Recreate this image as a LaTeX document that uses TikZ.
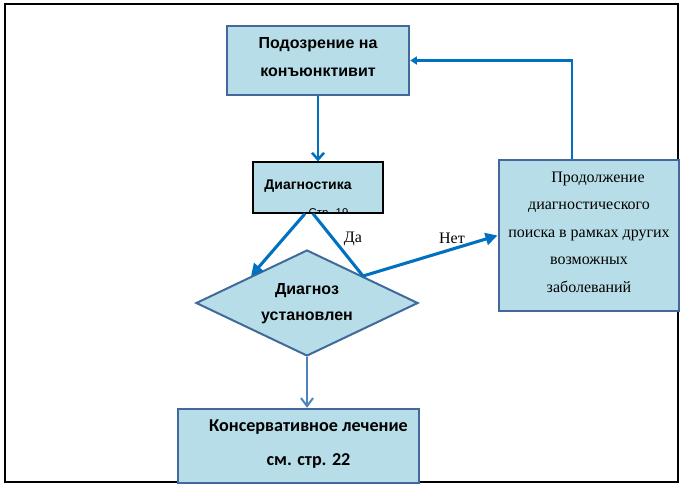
\documentclass[tikz,border=0pt]{standalone}
\usepackage{fontspec}
\setmainfont{Liberation Serif}
\newfontfamily\arialf{Liberation Sans}
\newfontfamily\calibrif{Carlito}
\usetikzlibrary{arrows.meta,shapes.geometric,calc}
\definecolor{boxfill}{HTML}{B7DEE8}
\definecolor{bord}{RGB}{65,105,155}
\definecolor{arrblue}{HTML}{0070C0}
\definecolor{steel}{HTML}{4F81BD}
\begin{document}
\begin{tikzpicture}[x=0.75pt,y=-0.75pt,
  box/.style={rectangle,draw=bord,fill=boxfill,line width=1.9pt,inner sep=0pt},
  arr/.style={draw=arrblue,line width=2.3pt},
  sanslbl/.style={font=\arialf\bfseries\fontsize{12}{21}\selectfont,align=center},
  seriflbl/.style={font=\fontsize{12}{14}\selectfont},
]
\useasboundingbox (0,0) rectangle (684,490);
\draw[line width=1.1pt] (5,4) rectangle (678,482);
% boxes
\node[box,minimum width=136.5pt,minimum height=51.75pt] (top) at (318,60.5) {};
\node[box,draw=black,line width=1pt,minimum width=97.5pt,minimum height=38.25pt] (diag) at (318,187.5) {};
\node[box,line width=2.2pt,minimum width=135pt,minimum height=113.25pt] (rb) at (589,235.5) {};
\node[box,shape=diamond,line width=1.5pt,minimum width=166.5pt,minimum height=79.5pt] (dia) at (307,303) {};
\node[box,minimum width=180.75pt,minimum height=55.5pt] (bot) at (298.5,446) {};
% texts
\node[sanslbl] (toptxt) at (318,57) {Подозрение на\\конъюнктивит};
\node[font=\arialf\bfseries\fontsize{10.5}{12}\selectfont] (diagtxt) at (308,186) {Диагностика};
\begin{scope}
  \clip (diag.south west) rectangle (diag.north east);
  \node[font=\arialf\fontsize{8.5}{10}\selectfont,anchor=base] (str) at (328.5,216) {Стр. 19};
\end{scope}
\node[sanslbl,font=\arialf\bfseries\fontsize{12}{19.5}\selectfont] (diatxt) at (307,304) {Диагноз\\установлен};
\node[font=\fontsize{12}{20.6}\selectfont,align=center] (rbtxt) at (589,232) {\hspace*{13.5pt}Продолжение\\диагностического\\поиска в рамках других\\возможных\\заболеваний};
\node[font=\calibrif\bfseries\fontsize{13.6}{25.5}\selectfont,align=center] (bottxt) at (308.5,444) {Консервативное лечение\\см. стр. 22};
\node[seriflbl] (da) at (353,239) {Да};
\node[seriflbl] (net) at (452,238) {Нет};
% connectors
\coordinate (dl) at ($(dia.north)!0.5!(dia.west)$);
\coordinate (dr) at ($(dia.north)!0.5!(dia.east)$);
\draw[arr,line width=1.9pt,-{Straight Barb[length=5pt,width=9pt]}] (top.south) -- (diag.north);
\draw[arr,-{Triangle[length=9pt,width=9pt]}] ($(diag.south)+(-13,0)$) -- (dl);
\draw[arr] ($(diag.south)+(-5,0)$) -- (dr);
\draw[arr,-{Triangle[length=9pt,width=9pt]}] (dr) -- (rb.west);
\draw[arr,line width=1.9pt,-{Triangle[length=5pt,width=6pt]}] ($(rb.north)+(-17,0)$) |- (top.east);
\draw[draw=steel,line width=1.5pt,-{Straight Barb[length=6pt,width=9pt]}] (dia.south) -- (dia.south |- bot.north);
\end{tikzpicture}
\end{document}
